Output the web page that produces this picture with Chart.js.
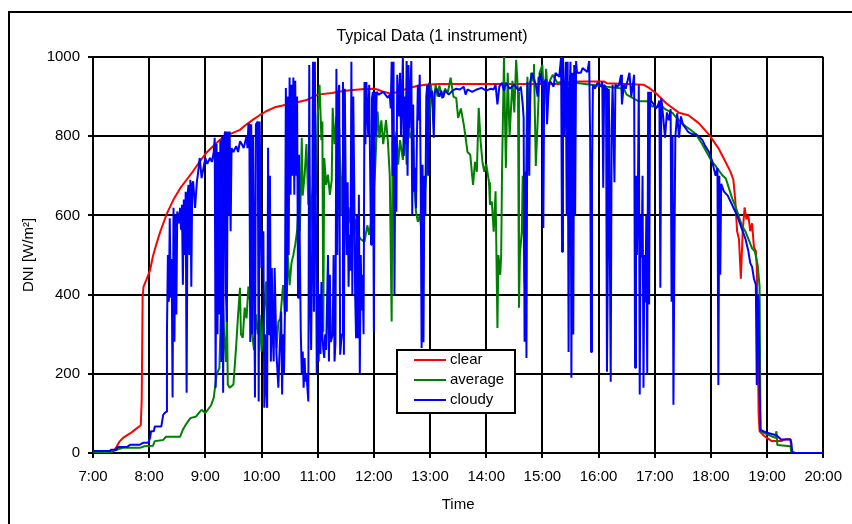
<!DOCTYPE html>
<html>
<head>
<meta charset="utf-8">
<script src="https://cdn.jsdelivr.net/npm/chart.js@4.4.1/dist/chart.umd.min.js"></script>
<style>
html,body{margin:0;padding:0;background:#fff;}
canvas{display:block;}
</style>
</head>
<body>
<canvas id="c" width="852" height="524"></canvas>
<script>
// ---------- DATA (minutes after 7:00, DNI W/m²) ----------
const chartTitle = 'Typical Data (1 instrument)';
const xTitle = 'Time';
const yTitle = 'DNI [W/m²]';
const seriesNames = ['clear', 'average', 'cloudy'];
const xTickLabels = ['7:00','8:00','9:00','10:00','11:00','12:00','13:00','14:00','15:00','16:00','17:00','18:00','19:00','20:00'];
const yTickLabels = ['0','200','400','600','800','1000'];

const clearReadings = [[0,0],[15,2],[22,5],[25,15],[28,28],[32,38],[40,50],[45,59],[50,68],[51,70],
[52,130],[53,395],[54,420],[57,437],[61,462],[64,497],[68,530],[72,560],[79,605],[86,640],
[93,668],[100,690],[107,712],[114,736],[121,758],[128,774],[135,790],[142,800],[150,809],[157,816],
[164,830],[171,842],[178,853],[185,863],[194,873],[205,879],[215,884],[229,892],[240,905],[255,909],
[269,915],[290,919],[300,920],[304,918],[310,912],[318,908],[327,912],[335,920],[345,926],[355,930],
[370,932],[515,932],[517,938],[546,938],[549,934],[588,930],[594,922],[601,909],[612,884],[626,859],
[636,853],[647,833],[658,804],[668,770],[675,738],[681,710],[684,690],[686,640],[688,560],[690,540],
[692,440],[694,560],[696,620],[698,590],[700,600],[702,560],[704,580],[706,520],[708,510],[709,470],
[710,290],[711,100],[712,55],[716,45],[720,38],[725,30],[735,30],[740,35],[745,35],[746,5],[750,0],[780,0]];

const averageReadings = [[0,0],[20,3],[25,8],[32,13],[50,13],[55,17],[64,18],[66,30],[75,33],[78,41],
[93,41],[96,59],[100,75],[104,88],[110,92],[114,104],[116,109],[120,101],[126,120],[129,140],
[132,198],[135,215],[137,392],[138,250],[139,367],[140,300],[142,230],[143,367],[144,173],[146,165],
[150,173],[153,273],[155,350],[157,417],[158,300],[160,291],[162,367],[164,340],[166,420],[168,380],
[170,300],[172,260],[174,350],[176,300],[178,349],[180,256],[182,330],[185,433],[186,300],[187,432],
[189,360],[191,330],[193,380],[196,265],[198,331],[200,340],[203,424],[205,349],[207,420],[208,500],
[210,424],[212,480],[214,500],[216,526],[218,560],[219,600],[221,560],[223,796],[224,650],[226,700],
[228,780],[230,627],[231,700],[232,560],[234,650],[236,700],[237,800],[238,652],[240,850],[242,930],
[244,790],[245,837],[246,306],[247,745],[249,677],[251,703],[253,652],[255,690],[256,872],[258,780],
[260,850],[262,700],[263,820],[265,600],[267,750],[269,684],[271,551],[273,620],[275,580],[277,650],
[279,551],[281,590],[283,551],[286,540],[290,533],[293,575],[295,551],[298,600],[301,700],[304,862],
[306,796],[308,840],[310,780],[313,841],[315,787],[317,700],[319,332],[320,787],[322,740],[324,812],
[326,728],[328,790],[331,740],[333,854],[335,728],[337,837],[339,795],[342,820],[343,684],[345,609],
[347,584],[349,600],[351,559],[353,620],[356,700],[358,780],[361,930],[363,872],[366,930],[368,900],
[370,928],[373,896],[376,920],[379,910],[382,948],[385,900],[388,896],[390,846],[393,870],[396,830],
[398,797],[400,760],[403,753],[405,700],[406,677],[408,735],[410,710],[412,872],[414,787],[416,735],
[418,710],[420,730],[423,684],[424,627],[426,635],[428,559],[430,661],[432,316],[433,500],[435,450],
[436,500],[437,728],[439,1000],[441,720],[443,960],[445,800],[448,940],[450,860],[452,993],[454,912],
[455,367],[456,500],[458,560],[459,700],[461,430],[462,600],[464,950],[466,820],[468,960],[470,940],
[471,982],[473,725],[475,840],[477,960],[480,980],[482,880],[484,970],[486,900],[488,940],[491,955],
[496,935],[503,938],[515,935],[549,925],[567,920],[570,905],[583,888],[594,888],[597,875],[608,875],
[612,867],[619,859],[622,850],[629,833],[633,825],[640,813],[644,805],[651,779],[654,766],[661,736],
[664,728],[672,702],[676,693],[683,641],[686,625],[693,575],[697,559],[704,517],[707,509],[710,475],
[712,420],[713,55],[721,46],[729,38],[730,55],[731,20],[745,17],[746,0],[780,0]];

const cloudyReadings = [[0,5],[18,5],[19,8],[25,8],[26,15],[36,15],[40,21],[50,21],[54,26],[59,26],
[61,38],[62,55],[65,55],[66,67],[73,67],[75,97],[78,104],[79,307],[80,500],[81,382],
[82,593],[83,392],[84,490],[85,140],[86,619],[87,281],[88,600],[89,350],[90,610],[92,580],
[93,619],[94,565],[95,627],[96,425],[97,640],[98,500],[99,660],[100,152],[101,652],[102,677],
[103,500],[104,690],[105,420],[106,680],[107,686],[109,619],[111,686],[112,703],[114,745],[116,694],
[118,720],[120,745],[122,730],[125,745],[127,735],[129,760],[130,796],[131,165],[132,780],[133,300],
[134,760],[135,350],[136,790],[137,230],[138,800],[139,152],[140,790],[141,812],[142,400],[143,331],
[144,812],[145,600],[146,812],[147,560],[148,770],[150,760],[153,775],[155,760],[157,787],[159,780],
[161,770],[164,800],[165,770],[166,830],[167,830],[168,280],[169,830],[170,300],[171,800],[172,500],
[173,140],[174,830],[176,837],[177,130],[178,837],[180,467],[182,560],[183,114],[184,300],[185,165],
[186,114],[187,771],[188,300],[189,700],[190,231],[191,467],[192,300],[193,231],[194,467],[196,248],
[198,165],[199,240],[201,357],[202,148],[203,300],[204,200],[205,357],[206,922],[207,357],[208,900],
[209,500],[210,948],[211,652],[212,930],[213,700],[214,948],[215,652],[216,940],[217,700],[218,900],
[219,392],[220,753],[221,500],[222,299],[223,198],[224,256],[225,165],[226,240],[227,180],[228,200],
[229,165],[230,130],[231,980],[232,400],[233,260],[234,500],[235,988],[236,357],[237,988],[238,652],
[239,200],[240,432],[241,231],[242,400],[243,250],[244,432],[245,299],[246,260],[247,240],[248,300],
[249,260],[251,500],[252,231],[253,450],[254,280],[256,300],[257,500],[258,231],[259,280],[260,970],
[261,500],[262,900],[263,930],[264,248],[265,280],[266,300],[267,937],[268,248],[269,920],[270,652],
[271,500],[272,684],[273,420],[274,551],[275,460],[276,988],[277,400],[278,900],[279,684],[280,400],
[281,290],[282,600],[283,290],[284,652],[285,200],[286,500],[287,360],[288,450],[289,300],[290,937],
[291,780],[292,937],[294,800],[295,930],[297,526],[298,896],[299,912],[300,306],[301,912],[302,800],
[303,912],[305,905],[310,912],[315,897],[317,905],[318,870],[319,988],[320,700],[321,988],[322,400],
[323,800],[324,609],[325,955],[327,850],[328,960],[329,800],[331,1000],[332,750],[333,900],[334,780],
[335,990],[336,700],[337,980],[338,820],[340,990],[341,600],[342,880],[343,660],[344,720],[345,618],
[346,800],[347,930],[348,840],[349,955],[350,700],[351,265],[352,728],[353,280],[354,700],[355,600],
[356,900],[357,930],[358,700],[359,935],[360,897],[362,915],[364,796],[365,910],[367,920],[370,900],
[372,915],[374,897],[376,915],[380,905],[384,915],[388,920],[392,918],[396,925],[398,905],[400,918],
[405,912],[410,918],[415,922],[420,915],[425,920],[428,918],[430,930],[432,880],[434,925],[437,935],
[439,915],[441,935],[445,920],[450,930],[453,920],[455,915],[457,925],[459,880],[460,846],[461,281],
[462,710],[463,240],[464,937],[465,820],[466,700],[467,937],[469,960],[473,930],[475,900],[476,950],
[477,930],[478,960],[480,937],[481,568],[482,937],[484,944],[485,830],[487,935],[489,937],[492,925],
[494,960],[498,950],[500,1000],[501,508],[502,1000],[503,800],[505,988],[506,600],[507,988],[508,255],
[509,900],[510,988],[511,190],[512,960],[513,299],[514,980],[515,600],[516,990],[517,960],[521,960],
[523,972],[528,962],[530,990],[531,800],[532,255],[533,700],[534,930],[536,920],[539,935],[542,925],
[544,937],[545,670],[546,930],[548,922],[549,205],[550,500],[551,920],[553,180],[554,820],[555,930],
[557,684],[558,930],[560,925],[562,930],[564,955],[565,880],[567,930],[569,920],[573,960],[575,900],
[578,955],[579,215],[580,700],[581,500],[582,650],[583,930],[584,148],[585,600],[586,493],[587,700],
[588,165],[589,500],[590,380],[591,600],[592,200],[593,912],[594,375],[595,912],[596,890],[599,880],
[601,870],[603,875],[605,890],[606,417],[607,896],[609,850],[611,796],[613,860],[615,840],[617,868],
[618,382],[619,800],[620,122],[621,500],[622,796],[624,858],[626,796],[628,850],[630,830],[633,820],
[636,810],[640,805],[644,805],[647,800],[651,790],[654,775],[658,760],[661,740],[663,720],[665,700],
[667,720],[668,172],[669,700],[670,450],[671,680],[674,660],[678,650],[682,630],[685,615],[688,600],
[691,580],[694,560],[697,540],[700,510],[702,480],[704,470],[706,440],[708,425],[709,172],[710,400],
[711,380],[712,150],[713,58],[720,51],[730,45],[735,34],[745,34],[746,25],[747,0],[780,0]];

const seriesColors = ['#ff0000', '#008000', '#0000ff'];

// ---------- CHART ----------
const FONT = '"Liberation Sans", Arial, sans-serif';
const toPoints = (arr) => arr.map(p => ({x: p[0], y: p[1]}));
const allReadings = [clearReadings, averageReadings, cloudyReadings];

const frame = {
  id: 'frame',
  beforeDraw(chart) {
    const ctx = chart.ctx;
    ctx.save();
    ctx.fillStyle = '#fff';
    ctx.fillRect(0, 0, chart.width, chart.height);
    ctx.strokeStyle = '#000';
    ctx.lineWidth = 2;
    ctx.strokeRect(9, 12, chart.width + 20, chart.height + 20);
    ctx.restore();
  },
  afterDraw(chart) {
    const ctx = chart.ctx;
    ctx.save();
    // title
    ctx.fillStyle = '#000';
    ctx.font = '16px ' + FONT;
    ctx.textAlign = 'center';
    ctx.textBaseline = 'middle';
    ctx.fillText(chartTitle, 432, 37);
    // legend
    const bx = 397, by = 350, bw = 118, bh = 63;
    ctx.fillStyle = '#fff';
    ctx.fillRect(bx, by, bw, bh);
    ctx.strokeStyle = '#000';
    ctx.lineWidth = 2;
    ctx.strokeRect(bx, by, bw, bh);
    chart.data.datasets.forEach((ds, i) => {
      const y = by + 10 + i * 20;
      ctx.strokeStyle = ds.borderColor;
      ctx.lineWidth = 2;
      ctx.beginPath();
      ctx.moveTo(bx + 17, y);
      ctx.lineTo(bx + 49, y);
      ctx.stroke();
      ctx.fillStyle = '#000';
      ctx.font = '15px ' + FONT;
      ctx.textAlign = 'left';
      ctx.textBaseline = 'middle';
      ctx.fillText(ds.label, bx + 53, y);
    });
    ctx.restore();
  }
};

new Chart(document.getElementById('c'), {
  type: 'line',
  data: {
    datasets: seriesNames.map((name, i) => ({
      label: name,
      data: toPoints(allReadings[i]),
      borderColor: seriesColors[i],
      backgroundColor: seriesColors[i],
      borderWidth: 2,
      borderJoinStyle: 'bevel',
      pointRadius: 0,
      tension: 0,
      fill: false,
      order: 3 - i
    }))
  },
  options: {
    responsive: false,
    animation: false,
    devicePixelRatio: 1,
    layout: { padding: { top: 57, right: 28, bottom: 0, left: 0 } },
    plugins: {
      legend: { display: false },
      title: { display: false },
      tooltip: { enabled: false }
    },
    scales: {
      x: {
        type: 'linear',
        min: 0,
        max: 780,
        afterFit: (s) => { s.height = 71; },
        ticks: {
          stepSize: 60,
          autoSkip: false,
          maxRotation: 0,
          padding: 10,
          color: '#000',
          font: { family: FONT, size: 15 },
          callback: (v) => xTickLabels[Math.round(v / 60)]
        },
        grid: { color: '#000', lineWidth: 2, tickLength: 5 },
        border: { color: '#000', width: 2 },
        title: { display: true, text: xTitle, color: '#000', font: { family: FONT, size: 15 }, padding: { top: 0, bottom: 10 } }
      },
      y: {
        type: 'linear',
        min: 0,
        max: 1000,
        afterFit: (s) => { s.width = 93; },
        ticks: {
          stepSize: 200,
          padding: 8,
          color: '#000',
          font: { family: FONT, size: 15 },
          callback: (v) => yTickLabels[Math.round(v / 200)]
        },
        grid: { color: '#000', lineWidth: 2, tickLength: 5 },
        border: { color: '#000', width: 2 },
        title: { display: true, text: yTitle, color: '#000', font: { family: FONT, size: 15 }, padding: { top: 20, bottom: 0 } }
      }
    }
  },
  plugins: [frame]
});
</script>
</body>
</html>
